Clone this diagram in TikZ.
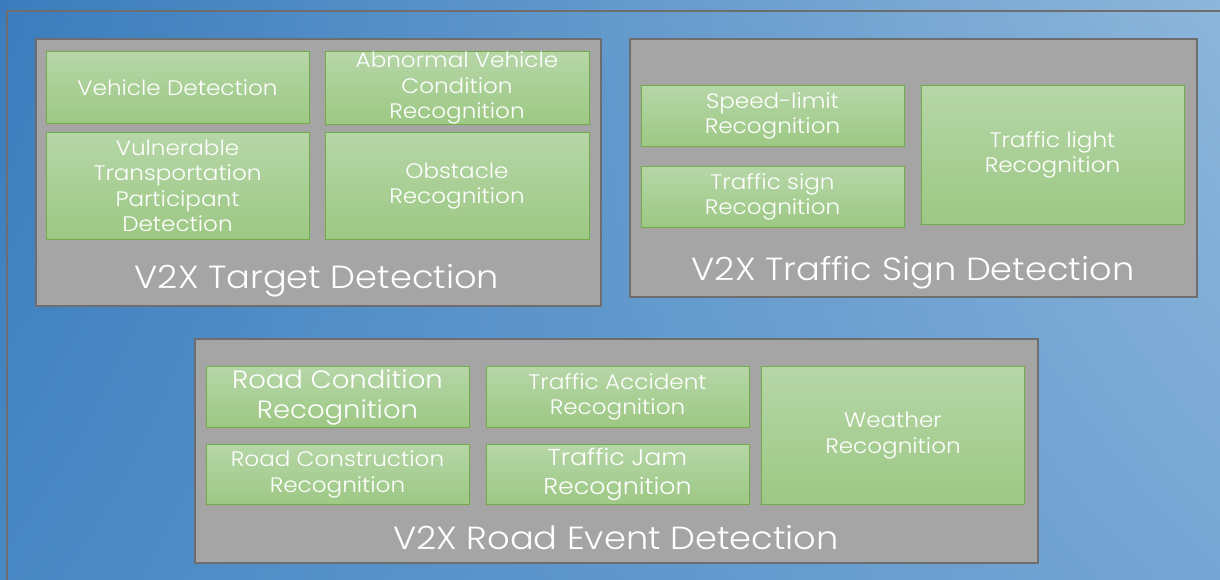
\documentclass[tikz,border=0pt]{standalone}
\usepackage{fontspec}
\setmainfont{Poppins Light}[FakeStretch=1.1]
\usetikzlibrary{shadings}
\definecolor{bgUL}{RGB}{58,124,189}
\definecolor{bgUR}{RGB}{141,182,218}
\definecolor{bgLL}{RGB}{72,136,196}
\definecolor{bgLR}{RGB}{118,166,212}
\definecolor{framegray}{RGB}{110,110,110}
\definecolor{panelgray}{RGB}{165,165,165}
\definecolor{boxline}{RGB}{112,173,71}
\definecolor{boxtop}{RGB}{182,214,167}
\definecolor{boxbot}{RGB}{157,200,132}

\begin{document}
\begin{tikzpicture}[x=1pt,y=-1pt,
  panel/.style={draw=framegray,line width=2pt,fill=panelgray},
  greenbox/.style={draw=boxline,line width=1pt,top color=boxtop,bottom color=boxbot,
    text=white,align=center,inner sep=0pt,minimum width=263pt,
    font=\fontsize{21}{25.5}\selectfont},
  paneltitle/.style={text=white,inner sep=0pt,yshift=-3pt,font=\fontsize{32}{36}\selectfont}]
  \useasboundingbox (0,0) rectangle (1220,580);
  \clip (0,0) rectangle (1220,580);
  % background
  \shade[upper left=bgUL,upper right=bgUR,lower left=bgLL,lower right=bgLR]
      (0,0) rectangle (1220,580);
  \draw[framegray,line width=2pt] (7,11) rectangle (1240,600);

  % V2X Target Detection
  \draw[panel] (36,39) rectangle (601,306);
  \node[greenbox,minimum height=72pt] (vehdet) at (177.5,88) {Vehicle Detection};
  \node[greenbox,minimum height=72pt,minimum width=264pt] (abnveh) at (457,88)
      {Abnormal Vehicle\\Condition\\Recognition};
  \node[greenbox,minimum height=107pt] (vulpart) at (177.5,186)
      {Vulnerable\\Transportation\\Participant\\Detection};
  \node[greenbox,minimum height=107pt,minimum width=264pt] (obst) at (457,186)
      {Obstacle\\Recognition};
  \node[paneltitle] (tgttitle) at (317,278) {V2X Target Detection};

  % V2X Traffic Sign Detection
  \draw[panel] (630,39) rectangle (1197,297);
  \node[greenbox,minimum height=61pt] (speed) at (772.5,116)
      {Speed-limit\\Recognition};
  \node[greenbox,minimum height=61pt] (tsign) at (772.5,197)
      {Traffic sign\\Recognition};
  \node[greenbox,minimum height=139pt] (tlight) at (1052.5,155)
      {Traffic light\\Recognition};
  \node[paneltitle] (signtitle) at (913,270)
      {V2X Traffic Sign Detection};

  % V2X Road Event Detection
  \draw[panel] (195,339) rectangle (1038,563);
  \node[greenbox,minimum height=61pt,font=\fontsize{25}{30}\selectfont] (roadcond)
      at (337.5,397) {Road Condition\\Recognition};
  \node[greenbox,minimum height=61pt] (accid) at (617.5,397)
      {Traffic Accident\\Recognition};
  \node[greenbox,minimum height=60pt] (constr) at (337.5,474.5)
      {Road Construction\\Recognition};
  \node[greenbox,minimum height=60pt,font=\fontsize{23}{29}\selectfont] (jam)
      at (617.5,474.5) {Traffic Jam\\Recognition};
  \node[greenbox,minimum height=138pt] (weather) at (893,435.5)
      {Weather\\Recognition};
  \node[paneltitle] (evttitle) at (616,535)
      {V2X Road Event Detection};
\end{tikzpicture}
\end{document}
